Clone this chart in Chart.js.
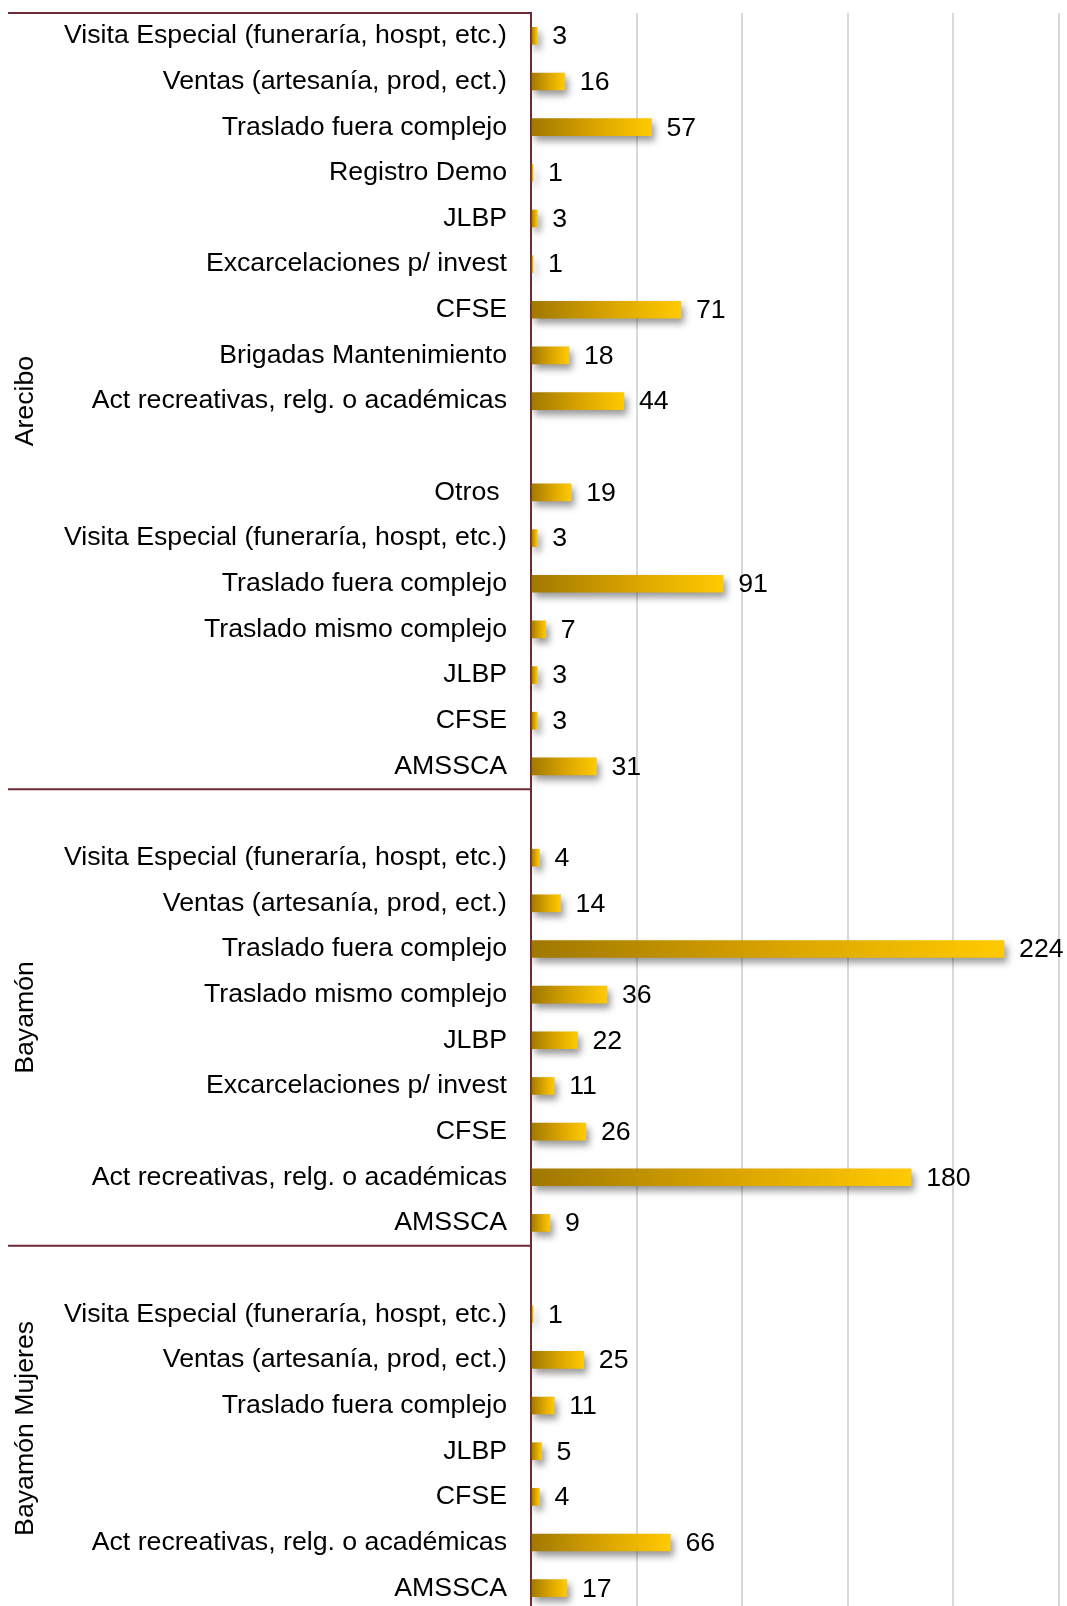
<!DOCTYPE html>
<html lang="es">
<head>
<meta charset="UTF-8">
<title>Actividades por institución</title>
<script src="https://cdn.jsdelivr.net/npm/chart.js@4"></script>
<style>
  html, body { margin: 0; padding: 0; background: #fff; overflow: hidden; }
  #wrap { width: 1067px; height: 1622px; }
</style>
</head>
<body>
<div id="wrap"><canvas id="chart"></canvas></div>
<script>
// --- datos ---
const groups = ['Arecibo', 'Bayamón', 'Bayamón Mujeres'];
const groupSizes = [17, 10, 8];

const categories = [
  // Arecibo
  'Visita Especial (funeraría, hospt, etc.)',
  'Ventas (artesanía, prod, ect.)',
  'Traslado fuera complejo',
  'Registro Demo',
  'JLBP',
  'Excarcelaciones p/ invest',
  'CFSE',
  'Brigadas Mantenimiento',
  'Act recreativas, relg. o académicas',
  '',
  'Otros ',
  'Visita Especial (funeraría, hospt, etc.)',
  'Traslado fuera complejo',
  'Traslado mismo complejo',
  'JLBP',
  'CFSE',
  'AMSSCA',
  // Bayamón
  '',
  'Visita Especial (funeraría, hospt, etc.)',
  'Ventas (artesanía, prod, ect.)',
  'Traslado fuera complejo',
  'Traslado mismo complejo',
  'JLBP',
  'Excarcelaciones p/ invest',
  'CFSE',
  'Act recreativas, relg. o académicas',
  'AMSSCA',
  // Bayamón Mujeres
  '',
  'Visita Especial (funeraría, hospt, etc.)',
  'Ventas (artesanía, prod, ect.)',
  'Traslado fuera complejo',
  'JLBP',
  'CFSE',
  'Act recreativas, relg. o académicas',
  'AMSSCA'
];

const values = [
  3, 16, 57, 1, 3, 1, 71, 18, 44, null, 19, 3, 91, 7, 3, 3, 31,
  null, 4, 14, 224, 36, 22, 11, 26, 180, 9,
  null, 1, 25, 11, 5, 4, 66, 17
];

const xMax = 250;
const xStep = 50;

const FONT = '"Liberation Sans", Arial, sans-serif';
const FSIZE = 26.7;
const MAROON = '#6e2a35';

// sombra de las barras
const barShadow = {
  id: 'barShadow',
  beforeDatasetsDraw(chart) {
    const ctx = chart.ctx;
    ctx.save();
    ctx.shadowColor = 'rgba(0,0,0,0.4)';
    ctx.shadowBlur = 7;
    ctx.shadowOffsetX = 3;
    ctx.shadowOffsetY = 5;
  },
  afterDatasetsDraw(chart) {
    chart.ctx.restore();
  }
};

// etiquetas de valor, grupos y separadores
const extras = {
  id: 'extras',
  afterDatasetsDraw(chart) {
    const ctx = chart.ctx;
    const meta = chart.getDatasetMeta(0);
    const area = chart.chartArea;

    ctx.save();
    ctx.font = FSIZE + 'px ' + FONT;
    ctx.fillStyle = '#000';
    ctx.textAlign = 'left';
    ctx.textBaseline = 'middle';
    meta.data.forEach((bar, i) => {
      if (values[i] == null) return;
      ctx.fillText(String(values[i]), bar.x + 15, bar.y + 1);
    });

    // separadores de grupo
    const rowH = (area.bottom - area.top) / categories.length;
    ctx.strokeStyle = MAROON;
    ctx.lineWidth = 2;
    let start = 0;
    groups.forEach((g, gi) => {
      const yTop = area.top + start * rowH;
      ctx.beginPath();
      ctx.moveTo(8, yTop);
      ctx.lineTo(area.left, yTop);
      ctx.stroke();
      const yMid = area.top + (start + groupSizes[gi] / 2) * rowH;
      ctx.save();
      ctx.translate(26, yMid);
      ctx.rotate(-Math.PI / 2);
      ctx.textAlign = 'center';
      ctx.fillText(g, 0, 0);
      ctx.restore();
      start += groupSizes[gi];
    });
    ctx.restore();
  }
};

new Chart(document.getElementById('chart'), {
  type: 'bar',
  data: {
    labels: categories,
    datasets: [{
      data: values,
      barThickness: 17,
      borderWidth: 0,
      backgroundColor(c) {
        const chart = c.chart;
        const xs = chart.scales.x;
        if (!chart.chartArea || !xs || c.raw == null) return '#e0a800';
        const x0 = xs.getPixelForValue(0);
        const x1 = xs.getPixelForValue(c.raw);
        const g = chart.ctx.createLinearGradient(x0, 0, Math.max(x1, x0 + 1), 0);
        g.addColorStop(0, '#a07800');
        g.addColorStop(0.55, '#dca600');
        g.addColorStop(1, '#ffca00');
        return g;
      }
    }]
  },
  options: {
    indexAxis: 'y',
    responsive: true,
    maintainAspectRatio: false,
    animation: false,
    layout: { padding: { top: 13, right: 8, bottom: 0, left: 0 } },
    plugins: {
      legend: { display: false },
      tooltip: { enabled: false }
    },
    scales: {
      x: {
        min: 0,
        max: xMax,
        ticks: { display: false, stepSize: xStep },
        grid: { color: '#d9d9d9', lineWidth: 2, drawTicks: false },
        border: { display: false },
        afterFit(scale) { scale.height = 11; scale.paddingLeft = 0; scale.paddingRight = 0; }
      },
      y: {
        grid: { display: false, drawTicks: false },
        border: { display: true, color: MAROON, width: 2 },
        ticks: {
          color: '#000',
          padding: 24,
          autoSkip: false,
          font: { family: FONT, size: FSIZE }
        },
        afterFit(scale) {
          scale.width = 531;
          scale.paddingTop = 0;
          scale.paddingBottom = 0;
        }
      }
    }
  },
  plugins: [barShadow, extras]
});
</script>
</body>
</html>
